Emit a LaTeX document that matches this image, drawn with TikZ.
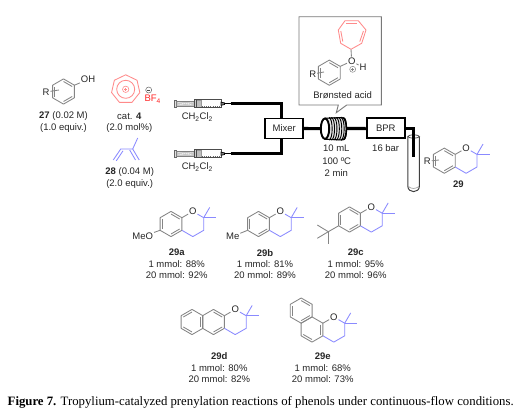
\documentclass[tikz,border=0pt]{standalone}
\usepackage{fontspec}
\setmainfont{Liberation Sans}
\newfontfamily\capfont{Liberation Serif}
\usetikzlibrary{calc}
\definecolor{bondgray}{HTML}{858585}
\definecolor{bondblue}{HTML}{8A8AFF}
\definecolor{bondred}{HTML}{FF8A8A}
\definecolor{txt}{HTML}{262626}
\newcommand{\hexr}[3]{%
  \draw[bond] ($(#1,#2)+(30:12.6)$) -- ($(#1,#2)+(90:12.6)$) -- ($(#1,#2)+(150:12.6)$) -- ($(#1,#2)+(210:12.6)$) -- ($(#1,#2)+(270:12.6)$) -- ($(#1,#2)+(330:12.6)$) -- cycle;
  \foreach \e in {#3}{%
    \pgfmathsetmacro{\aa}{30+60*\e}\pgfmathsetmacro{\bb}{90+60*\e}%
    \draw[bond] ($(#1,#2)+(\aa:10)$) -- ($(#1,#2)+(\bb:10)$);}%
}
\newcommand{\chrom}[3]{% name, cx, cy
  \hexr{#2}{#3}{0,2,4}
  \begin{scope}[shift={(#2,#3)}]
    \node[atom] (#1O) at (21.8,-12.6) {O};
    \draw[bond] (10.9,-6.3) -- (#1O);
    \draw[bondb] (#1O) -- (32.7,-6.3) -- (32.7,6.3) -- (21.8,12.6) -- (10.9,6.3);
    \draw[bondb] (32.7,-6.3) -- (38.7,-16.6);
    \draw[bondb] (32.7,-6.3) -- (45.4,-6.3);
  \end{scope}
}
\newcommand{\yield}[6]{% name,x,y0,label,a,b
  \node[txtn,font=\fontsize{9.5}{10}\selectfont\bfseries] (#1l) at (#2,#3) {#4};
  \node[txtn] (#1a) at (#2,#3+11.4) {1 mmol: #5\%};
  \node[txtn] (#1b) at (#2,#3+22.8) {20 mmol: #6\%};
}
\newcommand{\syringe}[3]{% name,x,y
  \begin{scope}[shift={(#2,#3)}]
    \draw[black!60,line width=.7pt,fill=gray!25] (0,-3.5) rectangle (2.2,3.5);
    \draw[black!50,line width=.5pt,fill=gray!45] (2.2,-2.8) rectangle (20,2.8);
    \draw[white,line width=.7pt,dash pattern=on 1pt off 1pt] (4,-1.2) -- (18,1.2) (4,1.2) -- (18,-1.2);
    \draw[black!70,line width=.9pt,fill=gray!40] (20,-4) rectangle (21.6,4);
    \draw[black!40,line width=.5pt,fill=gray!50] (21.6,-3.6) rectangle (27,3.6);
    \draw[black!70,line width=.7pt] (21.6,-4) rectangle (46.5,4);
    \draw[black!60,line width=.4pt,dash pattern=on .8pt off 1.4pt] (27,2.4) -- (46,2.4);
    \draw[black,line width=.7pt,fill=gray] (46.5,-1.6) -- (50,-.8) -- (50,.8) -- (46.5,1.6) -- cycle;
    \draw[black,line width=.8pt] (50,0) -- (56,0);
    \coordinate (#1) at (56,0);
  \end{scope}
}
\tikzset{
  bond/.style={draw=bondgray,line width=.85pt,line join=round},
  bondb/.style={draw=bondblue,line width=.85pt,line join=round},
  bondr/.style={draw=bondred,line width=.85pt,line join=round},
  atom/.style={inner sep=.8pt,text=txt,font=\fontsize{9.5}{10}\selectfont},
  txtn/.style={inner sep=0pt,text=txt,font=\fontsize{9.5}{10}\selectfont},
  tube/.style={draw=black,line width=3.2pt,line join=miter},
  unit/.style={draw=black,line width=1.8pt,fill=white,inner sep=0pt,text=txt,font=\fontsize{9.5}{10}\selectfont,minimum height=20pt},
}
\begin{document}
\begin{tikzpicture}[x=1pt,y=-1pt]
\useasboundingbox (0,0) rectangle (527,415);
\fill[white] (0,0) rectangle (527,415);
% phenol 27
\hexr{63.5}{91.5}{0,2,4}
\node[atom] (oh27) at (88,79.5) {OH};
\draw[bond] (74.4,85.2) -- (oh27);
\node[atom] (r27) at (46,92) {R};
\draw[bond] (r27) -- (59,90);
\node[txtn] (l27a) at (63.5,116) {\textbf{27} (0.02 M)};
\node[txtn] (l27b) at (63.5,128) {(1.0 equiv.)};
% tropylium
\begin{scope}[shift={(125.7,89.3)}]
\draw[bondr] (64.3:14.5) -- (115.7:14.5) -- (167.1:14.5) -- (218.6:14.5) -- (270:14.5) -- (321.4:14.5) -- (12.9:14.5) -- cycle;
\draw[bondr] (0,0) circle (9);
\draw[bondr,line width=.6pt] (0,0) circle (3.2);
\draw[draw=bondred,line width=.7pt] (-1.6,0) -- (1.6,0) (0,-1.6) -- (0,1.6);
\end{scope}
\draw[black!60,line width=.5pt] (148.7,90) circle (3);
\draw[black!70,line width=.6pt] (147.1,90) -- (150.3,90);
\node[txtn,text=red!85!white] (bf4) at (152.7,99.3) {BF\textsubscript{4}};
\node[txtn] (cat) at (129.3,116) {cat. \textbf{4}};
\node[txtn] (cat2) at (129.3,128) {(2.0 mol\%)};
% isoprene
\draw[bondb] (113.3,160) -- (120.7,149) -- (132.7,149) -- (137.7,138);
\draw[bondb] (116.3,160.8) -- (123,150.8);
\draw[bondb] (132.7,149) -- (139.2,160);
\draw[bondb] (129.7,150) -- (135.5,160);
\node[txtn] (l28a) at (129.7,172) {\textbf{28} (0.04 M)};
\node[txtn] (l28b) at (129.7,184) {(2.0 equiv.)};
% syringes
\syringe{syrA}{174.5}{103.7}
\syringe{syrB}{174.5}{153.7}
\node[txtn] (ch1) at (197.3,117.3) {CH\textsubscript{2}Cl\textsubscript{2}};
\node[txtn] (ch2) at (197.3,167) {CH\textsubscript{2}Cl\textsubscript{2}};
% flow units
\coordinate (mixerpos) at (284.2,128.5);
\coordinate (mixtop) at (281.8,120);
\coordinate (mixbot) at (281.8,137);
\coordinate (coilc) at (333.5,128.7);
\draw[tube] (syrA) -| (mixtop);
\draw[tube] (syrB) -| (mixbot);
\draw[tube] (mixerpos) -- (coilc);
\node[unit,minimum width=38.3pt] (bpr) at (385.8,128.3) {BPR};
\draw[tube] (coilc) -- (bpr);
\node[unit,minimum width=38.3pt] (mixer) at (mixerpos) {Mixer};
% coil
\foreach \cx in {329,331.4,...,344}{
  \draw[black,line width=.9pt,fill=white] (\cx,117.5) .. controls (\cx+4.4,117.5) and (\cx+4.4,140) .. (\cx,140);
}
\draw[black,line width=1.1pt,fill=black!10] (325,118.3) -- (342,117.5) .. controls (347.5,117.5) and (347.5,140) .. (342,140) -- (325,139.2) -- cycle;
\foreach \cx in {329,331.4,...,344}{
  \draw[black,line width=.9pt] (\cx,117.7) .. controls (\cx+4.2,118) and (\cx+4.2,139.6) .. (\cx,139.8);
}
\draw[black,line width=1.9pt,fill=white] (325,128.7) ellipse (4.2 and 10.2);
% test tube
\coordinate (vial) at (413.4,156.7);
\draw[black!75,line width=1pt] (407.8,137) -- (407.8,186) .. controls (407.8,193.5) and (419.4,193.5) .. (419.4,186) -- (419.4,137);
\draw[black!75,line width=.7pt] (413.6,136.5) ellipse (5.8 and 1.6);
\draw[black!50,line width=.5pt] (408.6,186.5) .. controls (410,189) and (417,189) .. (418.6,186.5);
\draw[tube] (bpr.east) -| (vial);
% labels
\node[txtn] (cl1) at (336.3,148.7) {10 mL};
\node[txtn] (cl2) at (336.7,161) {100 ºC};
\node[txtn] (cl3) at (336.3,172.7) {2 min};
\node[txtn] (bar) at (385.7,148.3) {16 bar};
% callout
\draw[bondgray!90!black,line width=.9pt,line join=miter] (299,16.7) -- (381.3,16.7) -- (381.3,105) -- (346.7,105) -- (336.3,112.7) -- (338.3,105) -- (299,105) -- cycle;
\draw[bondr] (345,20.7) -- (358.3,20.7) -- (366,30) -- (361.7,43.3) -- (351,49.3) -- (340.7,43.3) -- (338.3,30) -- cycle;
\draw[bondr] (346,23) -- (357.3,23);
\draw[bondr] (363.4,31) -- (359.8,41.6);
\draw[bondr] (340.8,31) -- (342.8,41.6);
\node[atom] (oc) at (351.7,61) {O};
\draw[bond] (351,49.3) -- (oc);
\node[atom] (hc) at (363,67.7) {H};
\draw[bond] (oc) -- (hc);
\hexr{329.3}{72.7}{0,2,4}
\draw[bond] (340.2,66.4) -- (oc);
\node[atom] (rc) at (312.7,74) {R};
\draw[bond] (rc) -- (324,72);
\draw[bond,line width=.5pt] (352.7,69.3) circle (3);
\draw[bond,line width=.6pt] (351.2,69.3) -- (354.2,69.3) (352.7,67.8) -- (352.7,70.8);
\node[txtn] (bro) at (342.7,95.3) {Brønsted acid};
% product 29
\chrom{pp}{444.3}{160.7}
\node[atom] (r29) at (427.3,161.3) {R};
\draw[bond] (r29) -- (439,160);
\node[txtn,font=\fontsize{9.5}{10}\selectfont\bfseries] (l29) at (458.3,184) {29};
% 29a
\chrom{a}{171}{224}
\node[atom] (meo) at (142.7,236.3) {MeO};
\draw[bond] (meo) -- (160.1,230.3);
\yield{ya}{176.7}{252.7}{29a}{88}{92}
% 29b
\chrom{b}{258.5}{224}
\node[atom] (me) at (232.7,236.3) {Me};
\draw[bond] (me) -- (247.6,230.3);
\yield{yb}{265}{252.7}{29b}{81}{89}
% 29c
\chrom{c}{349.5}{219.5}
\draw[bond] (338.6,225.8) -- (328.3,231.7) -- (317.3,225);
\draw[bond] (328.3,231.7) -- (317.3,238.3);
\draw[bond] (328.3,231.7) -- (328.3,244.3);
\yield{yc}{355.7}{252.7}{29c}{95}{96}
% 29d
\hexr{192}{322}{1,3,5}
\hexr{213.5}{322}{0,4}
\node[atom] (dO) at (235.2,309.4) {O};
\draw[bond] (224.4,315.7) -- (dO);
\draw[bondb] (dO) -- (246.2,315.7) -- (246.2,328.3) -- (235.2,334.6) -- (224.4,328.3);
\draw[bondb] (246.2,315.7) -- (252.2,305.4);
\draw[bondb] (246.2,315.7) -- (258.9,315.7);
\yield{yd}{219.3}{356.3}{29d}{80}{82}
% 29e
\hexr{301.2}{310.6}{0,2,4}
\hexr{312}{329.5}{1,5}
\node[atom] (eO) at (333.8,316.9) {O};
\draw[bond] (322.9,323.2) -- (eO);
\draw[bondb] (eO) -- (344.7,323.2) -- (344.7,335.8) -- (333.8,342.1) -- (322.9,335.8);
\draw[bondb] (344.7,323.2) -- (350.7,312.9);
\draw[bondb] (344.7,323.2) -- (357.4,323.2);
\yield{ye}{322.7}{356.3}{29e}{68}{73}
% caption
\node[inner sep=0pt,anchor=west,text=black] (cap) at (7.5,402.5) {\resizebox{506pt}{!}{\capfont\fontsize{11.5}{13}\selectfont\textbf{Figure 7.} Tropylium-catalyzed prenylation reactions of phenols under continuous-flow conditions.}};
\end{tikzpicture}
\end{document}
